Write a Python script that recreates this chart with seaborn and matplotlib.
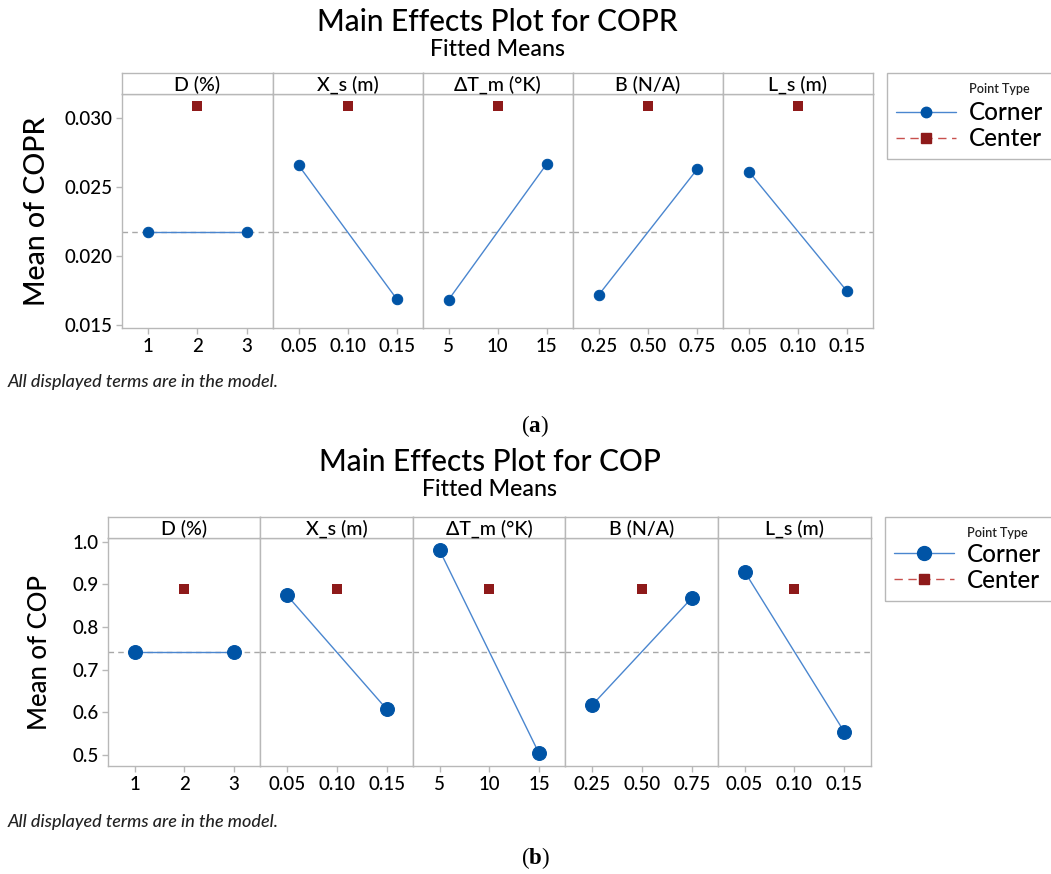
import numpy as np
import pandas as pd
import seaborn as sns
import matplotlib.pyplot as plt
from matplotlib.lines import Line2D
from matplotlib.patches import Rectangle

# factor levels shared by both charts
factors = ["D (%)", "X_s (m)", "ΔT_m (°K)", "B (N/A)", "L_s (m)"]
lows = [1, 0.05, 5, 0.25, 0.05]
centers = [2, 0.10, 10, 0.50, 0.10]
highs = [3, 0.15, 15, 0.75, 0.15]
tick_labels = [["1", "2", "3"], ["0.05", "0.10", "0.15"], ["5", "10", "15"],
               ["0.25", "0.50", "0.75"], ["0.05", "0.10", "0.15"]]

# (a) COPR fitted means
copr_low = [0.02172, 0.02657, 0.01686, 0.01722, 0.02611]
copr_high = [0.02172, 0.01690, 0.02670, 0.02628, 0.01746]
copr_center = 0.0309
copr_mean = 0.02172
copr_yticks = [0.015, 0.020, 0.025, 0.030]
copr_ylabels = ["0.015", "0.020", "0.025", "0.030"]

# (b) COP fitted means
cop_low = [0.741, 0.875, 0.980, 0.616, 0.930]
cop_high = [0.741, 0.607, 0.504, 0.868, 0.554]
cop_center = 0.890
cop_mean = 0.741
cop_yticks = [0.5, 0.6, 0.7, 0.8, 0.9, 1.0]
cop_ylabels = ["0.5", "0.6", "0.7", "0.8", "0.9", "1.0"]

W, H = 1051, 874
line_blue = "#4a86cf"
dot_blue = "#0054a6"
center_red = "#8e1a1a"
red_line = "#c8504d"
frame = "#b8b8b8"
ink = "#000000"

sns.set_theme(style="white")
plt.rcParams['font.family'] = ['Lato', 'DejaVu Sans']
plt.rcParams['font.weight'] = 500
plt.rcParams['mathtext.fontset'] = 'custom'
plt.rcParams['mathtext.bf'] = 'Liberation Serif:bold'
plt.rcParams['mathtext.rm'] = 'Liberation Serif'

fig = plt.figure(figsize=(W / 100, H / 100), dpi=100)


def fx(px):
    return px / W


def fy(py):
    return 1 - py / H


def draw_block(title, ylabel, low_y, high_y, center_y, grand_mean, yticks, ylabels,
               ylim, edges, strip_top, strip_bot, data_bot, ms, sq, leg_x, leg_bot, leg_off,
               ylabel_x, ylabel_size, title_y, sub_y, note_y, tag, tag_y):
    for i, name in enumerate(factors):
        x0, x1 = edges[i], edges[i + 1]
        ax = fig.add_axes([fx(x0), fy(data_bot), (x1 - x0) / W, (data_bot - strip_bot) / H])
        ax.axhline(grand_mean, color="#a8a8a8", ls=(0, (4, 3)), lw=1, zorder=1)
        df = pd.DataFrame({"level": [lows[i], highs[i]], "mean": [low_y[i], high_y[i]]})
        sns.lineplot(data=df, x="level", y="mean", color=line_blue, lw=1, marker="o",
                     markersize=ms, markerfacecolor=dot_blue, markeredgecolor=dot_blue,
                     ax=ax, zorder=3)
        sns.scatterplot(x=[centers[i]], y=[center_y], marker="s", s=sq ** 2,
                        color=center_red, edgecolor=center_red, linewidth=0, ax=ax, zorder=4)
        span = highs[i] - lows[i]
        ax.set_xlim(lows[i] - 0.265 * span, highs[i] + 0.265 * span)
        ax.set_ylim(*ylim)
        ax.set_xticks([lows[i], centers[i], highs[i]])
        ax.set_xticklabels(tick_labels[i])
        ax.set_yticks(yticks)
        ax.set_xlabel("")
        ax.set_ylabel("")
        ax.tick_params(axis="x", bottom=True, length=4, width=1, color=frame,
                       labelsize=13.5, pad=3, labelcolor=ink)
        if i == 0:
            ax.set_yticklabels(ylabels)
            ax.tick_params(axis="y", left=True, length=4, width=1, color=frame,
                           labelsize=13.5, pad=3, labelcolor=ink)
        else:
            ax.tick_params(axis="y", left=False, labelleft=False)
        for s in ax.spines.values():
            s.set_color(frame)
            s.set_linewidth(1)
        # strip header
        st = fig.add_axes([fx(x0), fy(strip_bot), (x1 - x0) / W, (strip_bot - strip_top) / H])
        st.set_xticks([])
        st.set_yticks([])
        for s in st.spines.values():
            s.set_color(frame)
            s.set_linewidth(1)
        st.text(0.5, 0.42, name, ha="center", va="center", fontsize=14, color=ink,
                transform=st.transAxes)

    mid = (edges[0] + edges[-1]) / 2
    fig.text(fx(mid), fy(title_y), title, ha="center", va="center", fontsize=21.5, color=ink)
    fig.text(fx(mid), fy(sub_y), "Fitted Means", ha="center", va="center", fontsize=16.7,
             color=ink)
    fig.text(fx(ylabel_x), fy((strip_bot + data_bot) / 2), ylabel, rotation=90, ha="center",
             va="center", fontsize=ylabel_size, color=ink)

    # legend box, clipped by the right edge like the original
    fig.add_artist(Rectangle((fx(leg_x), fy(leg_bot)), (W + 20 - leg_x) / W,
                             (leg_bot - strip_top) / H, transform=fig.transFigure,
                             fill=False, edgecolor=frame, lw=1))
    fig.text(fx(leg_x + 82), fy(strip_top + 16), "Point Type", ha="left", va="center",
             fontsize=9, fontweight="semibold", color="#222222")
    handles = [Line2D([], [], color=line_blue, lw=1, marker="o", ms=ms,
                      mfc=dot_blue, mec=dot_blue),
               Line2D([], [], color=red_line, lw=1, ls=(0, (6, 4)), marker="s", ms=sq,
                      mfc=center_red, mec=center_red)]
    fig.legend(handles, ["Corner", "Center"], loc="upper left",
               bbox_to_anchor=(fx(leg_x + 9), fy(strip_top + leg_off)), frameon=False,
               fontsize=17.5, handlelength=2.45, handletextpad=0.55, labelspacing=0.12,
               borderpad=0, borderaxespad=0, labelcolor=ink)

    fig.text(fx(8), fy(note_y), "All displayed terms are in the model.", ha="left",
             va="center", fontsize=13, style="italic", color="#222222")
    fig.text(fx(535), fy(tag_y), "(" + r"$\mathbf{" + tag + "}$" + ")", ha="center",
             va="center", fontsize=16.5, family="Liberation Serif", color=ink)


draw_block("Main Effects Plot for COPR", "Mean of COPR", copr_low, copr_high, copr_center,
           copr_mean, copr_yticks, copr_ylabels, (0.0148, 0.03174),
           [122, 272.7, 422.7, 573, 723, 873], 73, 94, 328, 7.5, 7,
           887, 159, 28.5, 37, 20.5, 22, 50, 382, "a", 426)

draw_block("Main Effects Plot for COP", "Mean of COP", cop_low, cop_high, cop_center,
           cop_mean, cop_yticks, cop_ylabels, (0.474, 1.009),
           [108.3, 260.3, 413.3, 565.3, 718.2, 870.7], 517, 538, 766, 10, 6.5,
           885, 601, 26, 40, 18.5, 462, 490, 822, "b", 858)

fig.savefig("out.png", dpi=100)
